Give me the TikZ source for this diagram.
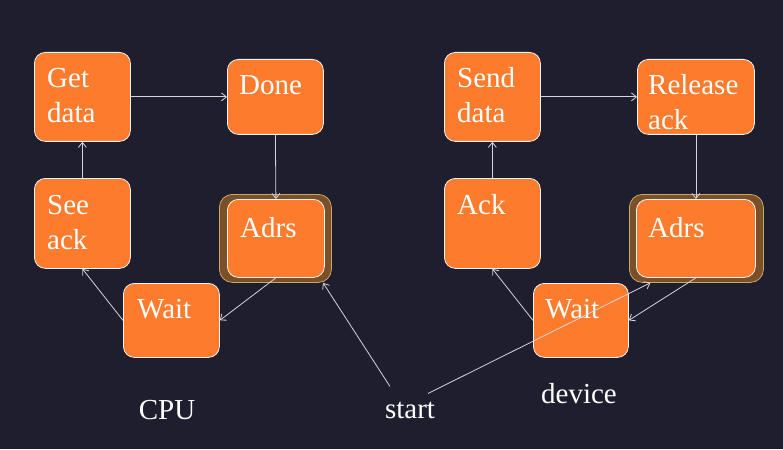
\documentclass[tikz,border=0pt]{standalone}
\usepackage{fontspec}
\setmainfont{Liberation Serif}
\usetikzlibrary{arrows.meta}
\definecolor{bg}{HTML}{1F1E2E}
\definecolor{org}{HTML}{FD7B2C}
\definecolor{brn}{HTML}{7A5029}
\definecolor{gld}{HTML}{C9A865}
\definecolor{lne}{HTML}{D4D4DC}
\tikzset{
  box/.style={draw=white!92!gray, line width=0.8pt, fill=org, rounded corners=11pt,
    anchor=north west, inner sep=0pt, minimum width=#1},
  outerbox/.style={draw=gld, line width=0.8pt, fill=brn, rounded corners=13pt,
    anchor=north west, inner sep=0pt, minimum width=#1},
  txt/.style={text=white, font=\fontsize{29}{35}\selectfont, anchor=base west,
    inner sep=0pt, align=left},
  lbl/.style={text=white, font=\fontsize{29}{35}\selectfont, anchor=base, inner sep=0pt},
  arr/.style={draw=lne, line width=0.8pt, -{Straight Barb[length=5pt,width=8pt]}},
}
\begin{document}
\begin{tikzpicture}[x=1pt,y=-1pt]
\useasboundingbox[fill=bg] (0,0) rectangle (783,449);
% CPU side
\node[box=96pt, minimum height=89pt] (get) at (34,52) {};
\node[txt] (getT) at (47,123) {Get\\data};
\node[box=96pt, minimum height=75pt] (done) at (227,59) {};
\node[txt] (doneT) at (239,95) {Done};
\node[outerbox=112pt, minimum height=88pt] (adrsC) at (219,194) {};
\node[box=97pt, minimum height=78pt] (adrsCi) at (227,199) {};
\node[txt] (adrsCT) at (240,237) {Adrs};
\node[box=96pt, minimum height=90pt] (see) at (34,178) {};
\node[txt] (seeT) at (47,249) {See\\ack};
\node[box=96pt, minimum height=74pt] (waitC) at (123,283) {};
\node[txt] (waitCT) at (137,318) {Wait};
% device side
\node[box=96pt, minimum height=89pt] (send) at (444,52) {};
\node[txt] (sendT) at (457,123) {Send\\data};
\node[box=117pt, minimum height=75pt] (rel) at (637,59) {};
\node[txt] (relT) at (648,130) {Release\\ack};
\node[outerbox=134pt, minimum height=88pt] (adrsD) at (629,194) {};
\node[box=119pt, minimum height=78pt] (adrsDi) at (636,199) {};
\node[txt] (adrsDT) at (648,237) {Adrs};
\node[box=96pt, minimum height=90pt] (ack) at (444,178) {};
\node[txt] (ackT) at (457,214) {Ack};
\node[box=95pt, minimum height=74pt] (waitD) at (533,283) {};
\node[txt] (waitDT) at (545,318) {Wait};
% labels
\node[lbl] (cpu) at (167,419) {CPU};
\node[lbl] (start) at (410,418) {start};
\node[lbl] (dev) at (579,403) {device};
% CPU arrows
\draw[arr] (get.east) -- (done.west);
\draw[arr] (done.south) -- (adrsCi.north);
\draw[arr] (adrsCi.south) -- (waitC.east);
\draw[arr] (waitC.west) -- (see.south);
\draw[arr] (see.north) -- (get.south);
% device arrows
\draw[arr] (send.east) -- (rel.west);
\draw[arr] (rel.south) -- (adrsDi.north);
\draw[arr] (adrsDi.south) -- (waitD.east);
\draw[arr] (waitD.west) -- (ack.south);
\draw[arr] (ack.north) -- (send.south);
% start arrows
\draw[arr] ([xshift=-20pt,yshift=15pt]start.north) -- (adrsC.-43);
\draw[arr] ([xshift=18pt,yshift=8pt]start.north) -- (adrsD.224);
\end{tikzpicture}
\end{document}
